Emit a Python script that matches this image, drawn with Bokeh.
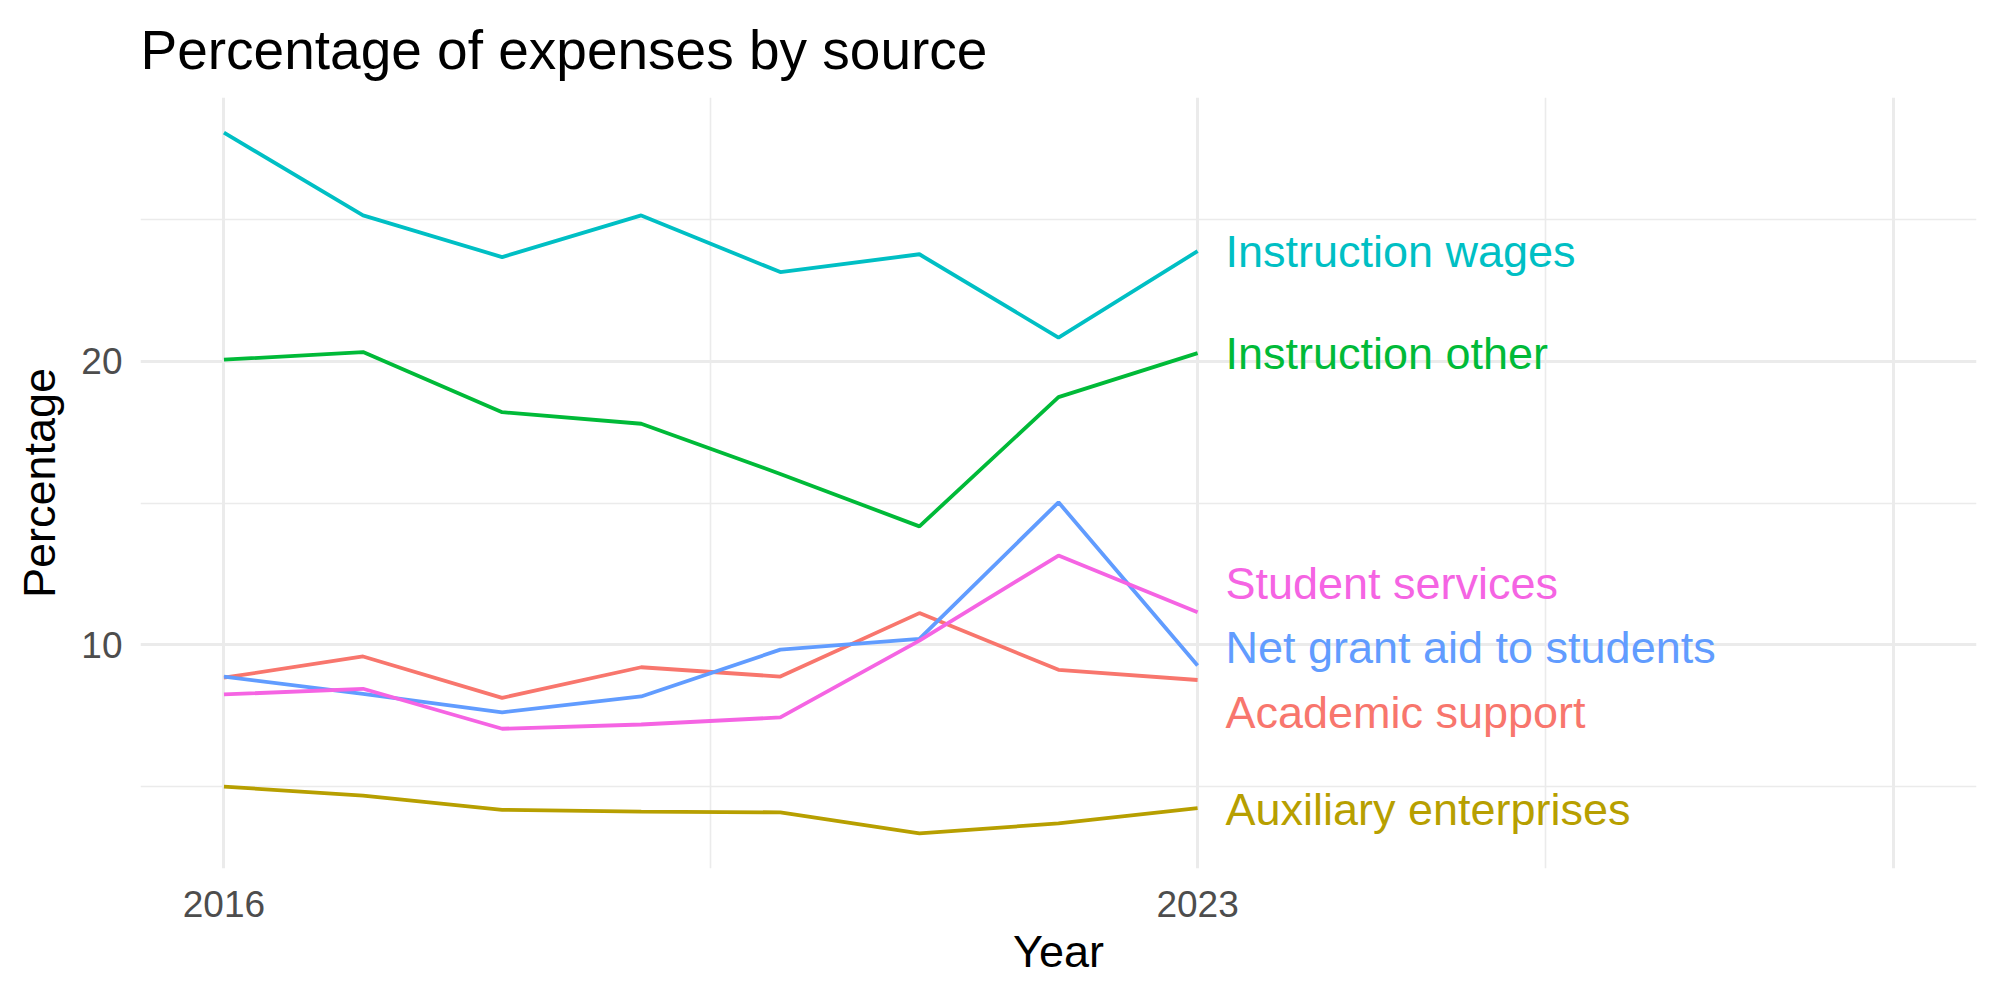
from bokeh.plotting import figure
from bokeh.models import Range1d, FixedTicker, ColumnDataSource
from bokeh.core.properties import value
from bokeh.embed import file_html
from bokeh.resources import INLINE

years = [2016, 2017, 2018, 2019, 2020, 2021, 2022, 2023]

series_names = ["Academic support", "Auxiliary enterprises", "Instruction other",
                "Instruction wages", "Net grant aid to students", "Student services"]
academic_support = [8.84, 9.59, 8.13, 9.21, 8.88, 11.12, 9.12, 8.76]
auxiliary_enterprises = [5.00, 4.68, 4.18, 4.12, 4.09, 3.35, 3.70, 4.24]
instruction_other = [20.06, 20.33, 18.21, 17.80, 16.03, 14.18, 18.74, 20.29]
instruction_wages = [28.07, 25.15, 23.68, 25.15, 23.15, 23.78, 20.84, 23.89]
net_grant_aid = [8.88, 8.27, 7.62, 8.18, 9.83, 10.21, 15.03, 9.27]
student_services = [8.25, 8.45, 7.04, 7.19, 7.44, 10.15, 13.15, 11.15]

# label positions (repelled) at the line ends
label_y = [7.63, 4.18, 20.29, 23.89, 9.90, 12.17]
label_x = 2023.2

colors = ["#F8766D", "#B79F00", "#00BA38", "#00BFC4", "#619CFF", "#F564E3"]
values_list = [academic_support, auxiliary_enterprises, instruction_other,
               instruction_wages, net_grant_aid, student_services]

x_breaks = [2016, 2023, 2028]
x_minor = [2019.5, 2025.5]
y_breaks = [10, 20]
y_minor = [5, 15, 25]

FONT = "Liberation Sans"

p = figure(width=2000, height=1000, output_backend="svg", toolbar_location=None,
           x_range=Range1d(2015.4, 2028.6), y_range=Range1d(2.11, 29.31),
           min_border_left=140, min_border_right=24, min_border_top=97,
           min_border_bottom=132)
p.outline_line_color = None
p.background_fill_color = "white"
p.border_fill_color = "white"

p.title.text = "Percentage of expenses by source"
p.title.text_font = FONT
p.title.text_font_size = "55px"
p.title.text_font_style = "normal"
p.title.text_color = "black"
p.title.align = "left"
p.title.standoff = 33

for ax in (p.xaxis[0], p.yaxis[0]):
    ax.axis_line_color = None
    ax.major_tick_line_color = None
    ax.minor_tick_line_color = None
    ax.major_tick_out = 0
    ax.minor_tick_out = 0
    ax.major_label_text_font = FONT
    ax.major_label_text_font_size = "37px"
    ax.major_label_text_color = "#4D4D4D"
    ax.axis_label_text_font = FONT
    ax.axis_label_text_font_size = "45px"
    ax.axis_label_text_font_style = "normal"
    ax.axis_label_text_color = "black"

p.xaxis.ticker = FixedTicker(ticks=x_breaks, minor_ticks=x_minor)
p.xaxis.major_label_overrides = {2016: "2016", 2023: "2023", 2028: ""}
p.yaxis.ticker = FixedTicker(ticks=y_breaks, minor_ticks=y_minor)
p.xaxis.axis_label = "Year"
p.yaxis.axis_label = "Percentage"
p.xaxis.major_label_standoff = 22
p.yaxis.major_label_standoff = 18
p.xaxis.axis_label_standoff = 6
p.yaxis.axis_label_standoff = 13

p.xgrid.ticker = FixedTicker(ticks=x_breaks, minor_ticks=x_minor)
p.ygrid.ticker = FixedTicker(ticks=y_breaks, minor_ticks=y_minor)
for g in (p.xgrid[0], p.ygrid[0]):
    g.grid_line_color = "#EBEBEB"
    g.grid_line_width = 3
    g.minor_grid_line_color = "#EBEBEB"
    g.minor_grid_line_width = 1.6

for name, vals, col in zip(series_names, values_list, colors):
    src = ColumnDataSource(dict(x=years, y=vals))
    p.line("x", "y", source=src, line_color=col, line_width=3.8)

lab_src = ColumnDataSource(dict(x=[label_x] * len(series_names), y=label_y,
                                text=series_names, color=colors))
p.text("x", "y", text="text", source=lab_src, text_color="color",
       text_font=value(FONT), text_font_size="45px",
       text_baseline="middle", text_align="left")

open("out.html", "w").write(file_html(p, INLINE))
